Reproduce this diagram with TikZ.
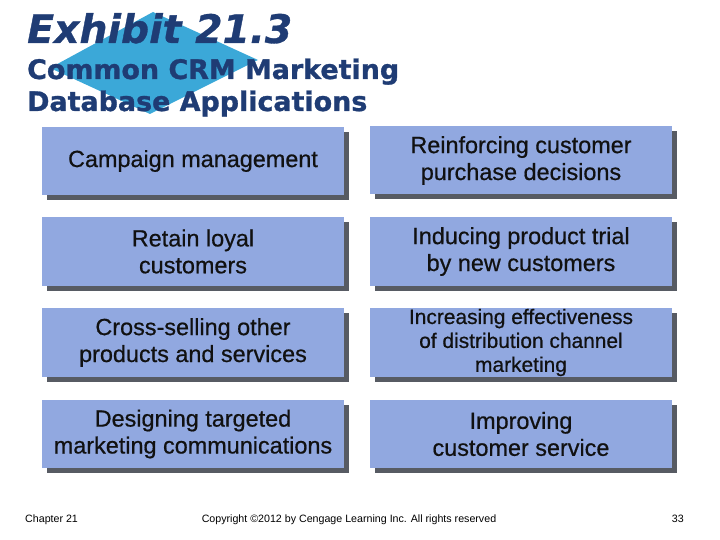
\documentclass[tikz,border=0pt]{standalone}
\usepackage{fontspec}
\setmainfont{Liberation Sans}
\newfontfamily\titlefont{DejaVu Sans}
\usetikzlibrary{shadows}
\definecolor{boxfill}{HTML}{91A8E0}
\definecolor{shadowc}{HTML}{575B63}
\definecolor{navy}{HTML}{1F3C74}
\definecolor{diam}{HTML}{3BA8D8}
\definecolor{txt}{HTML}{111111}
\tikzset{
  appbox/.style={rectangle, fill=boxfill, minimum width=302bp, minimum height=69bp,
    align=center, text=txt, inner sep=0pt,
    drop shadow={shadow xshift=5bp, shadow yshift=-5bp, fill=shadowc, opacity=1}},
  foot/.style={font=\fontsize{10.7}{12}\selectfont, text=black, inner sep=0pt},
  ttl/.style={anchor=base west, inner sep=0pt, text=navy}
}
\begin{document}
\begin{tikzpicture}[x=1bp, y=-1bp]
\useasboundingbox (0,0) rectangle (720,540);
% diamond
\fill[diam] (50,68) -- (153,12) -- (258,60) -- (150,114) -- cycle;
% titles
\node[ttl, font=\titlefont\fontsize{39.5}{44}\selectfont\bfseries\itshape\addfontfeature{FakeBold=0.8}] (t1) at (27,43) {Exhibit 21.3};
\node[ttl, font=\titlefont\fontsize{27}{30}\selectfont\bfseries\addfontfeature{FakeBold=1}] (t2) at (27,79) {Common CRM Marketing};
\node[ttl, font=\titlefont\fontsize{27}{30}\selectfont\bfseries\addfontfeature{FakeBold=1}] (t3) at (27,111) {Database Applications};
% boxes
\begin{scope}[every node/.append style={font=\fontsize{23.5}{27}\selectfont\addfontfeature{FakeBold=0.6}}]
\node[appbox, minimum height=68bp] (a1) at (193,161) {Campaign management};
\node[appbox] (a2) at (193,251.5) {Retain loyal\\customers};
\node[appbox] (a3) at (193,342.5) {Cross-selling other\\products and services};
\node[appbox, minimum height=68bp] (a4) at (193,434) {Designing targeted\\marketing communications};
\node[appbox, minimum height=68bp] (b1) at (521,160.5) {Reinforcing customer\\purchase decisions};
\node[appbox] (b2) at (521,251.5) {Inducing product trial\\by new customers};
\node[appbox, font=\fontsize{21}{24}\selectfont\addfontfeature{FakeBold=0.6}] (b3) at (521,342.5) {Increasing effectiveness\\of distribution channel\\marketing};
\node[appbox, minimum height=68bp] (b4) at (521,434) {Improving\\customer service};
\end{scope}
% footer
\node[foot, anchor=base west] (f1) at (25,522) {Chapter 21};
\node[foot, anchor=base] (f2) at (349,522) {Copyright \textcopyright2012 by Cengage Learning Inc. All rights reserved};
\node[foot, anchor=base east] (f3) at (684,522) {33};
\end{tikzpicture}
\end{document}
